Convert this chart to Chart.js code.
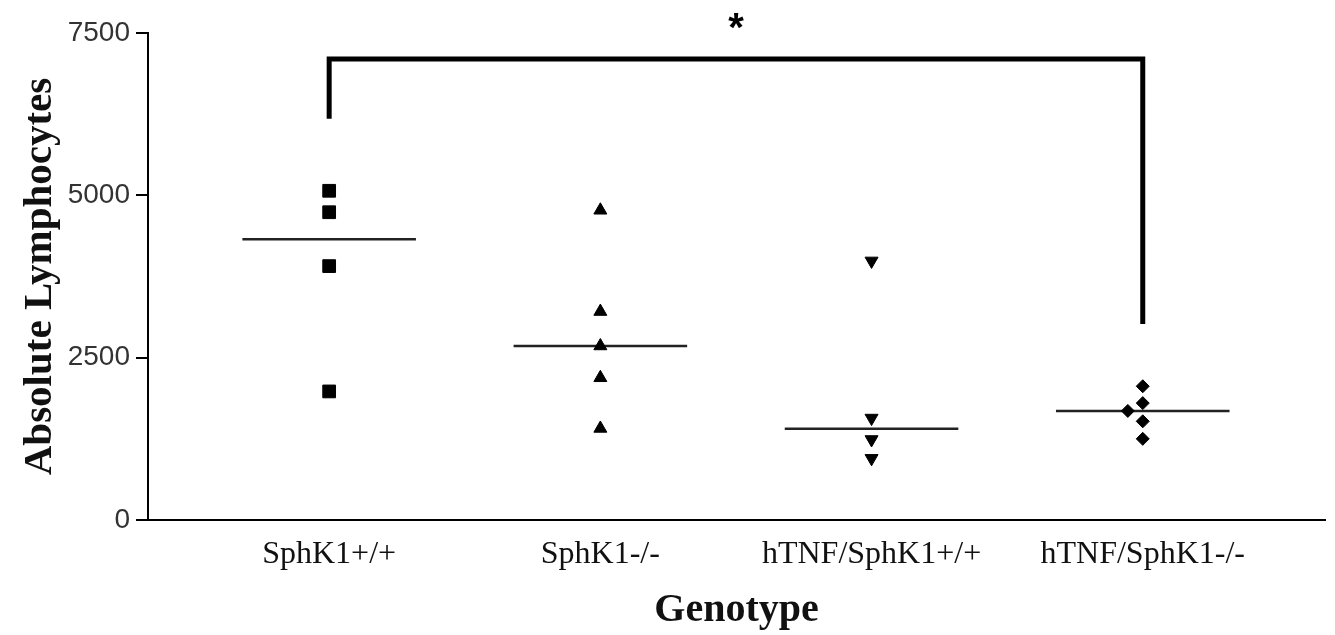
<!DOCTYPE html>
<html>
<head>
<meta charset="utf-8">
<script src="https://cdn.jsdelivr.net/npm/chart.js@4/dist/chart.umd.min.js"></script>
<style>
  html,body{margin:0;padding:0;background:#fff}
  #wrap{width:1335px;height:635px}
</style>
</head>
<body>
<div id="wrap"><canvas id="data_chart" width="1335" height="635"></canvas></div>
<script>
// genotype groups
const genotypes=["SphK1+/+","SphK1-/-","hTNF/SphK1+/+","hTNF/SphK1-/-"]
// absolute lymphocytes
const sphk1_wt=[5070,4740,3910,1980]
const sphk1_ko=[4770,3210,2680,2190,1410]
const htnf_wt=[3990,1570,1240,950]
const htnf_ko=[2060,1800,1680,1520,1250]
// small sideways shift of the overlapping hTNF/SphK1-/- point
const htnf_ko_shift=[0,0,-0.055,0,0]
const y_ticks=[0,2500,5000,7500]
// significance bracket: SphK1+/+ vs hTNF/SphK1-/-
const bracket_x=[0,0,3,3]
const bracket_y=[6180,7100,7100,3020]
const star_y=7640

function median(arr){
  const s=[...arr].sort((a,b)=>a-b)
  const m=Math.floor(s.length/2)
  return s.length%2 ? s[m] : (s[m-1]+s[m])/2
}

const groups=[sphk1_wt,sphk1_ko,htnf_wt,htnf_ko]
const styles=[
  {pointStyle:'rect',radius:9,rotation:0},
  {pointStyle:'triangle',radius:7.5,rotation:0},
  {pointStyle:'triangle',radius:7.5,rotation:180},
  {pointStyle:'rectRot',radius:6.5,rotation:0}
]

const datasets=[]
for(let i=0;i<groups.length;i++){
  const pts=[]
  for(let j=0;j<groups[i].length;j++){
    const dx = i==3 ? htnf_ko_shift[j] : 0
    pts.push({x:i+dx,y:groups[i][j]})
  }
  datasets.push({
    type:'scatter',
    data:pts,
    pointStyle:styles[i].pointStyle,
    pointRadius:styles[i].radius,
    pointRotation:styles[i].rotation,
    backgroundColor:'#000',
    borderColor:'#000',
    borderWidth:1,
    order:1
  })
  const med=median(groups[i])
  datasets.push({
    type:'line',
    data:[{x:i-0.32,y:med},{x:i+0.32,y:med}],
    borderColor:'#222',
    borderWidth:2.5,
    pointRadius:0,
    order:2
  })
}
datasets.push({
  type:'line',
  data:bracket_x.map((x,k)=>({x:x,y:bracket_y[k]})),
  borderColor:'#000',
  borderWidth:5,
  pointRadius:0,
  borderJoinStyle:'miter',
  clip:false,
  order:3
})

const starPlugin={
  id:'star',
  afterDraw(chart){
    const ctx=chart.ctx
    const x=chart.scales.x.getPixelForValue(1.5)
    const y=chart.scales.y.getPixelForValue(star_y)
    ctx.save()
    ctx.fillStyle='#000'
    ctx.font='bold 40px "Liberation Sans"'
    ctx.textAlign='center'
    ctx.textBaseline='middle'
    ctx.fillText('*',x,y+6)
    ctx.restore()
  }
}

new Chart('data_chart',{
  type:'scatter',
  data:{datasets:datasets},
  plugins:[starPlugin],
  options:{
    responsive:false,
    animation:false,
    layout:{padding:{top:33,right:5,left:0,bottom:0}},
    plugins:{legend:{display:false},tooltip:{enabled:false}},
    scales:{
      x:{
        type:'linear',
        min:-0.668,
        max:3.672,
        afterBuildTicks:(scale)=>{scale.ticks=genotypes.map((g,i)=>({value:i}))},
        afterFit:(scale)=>{scale.height=115},
        grid:{display:false,drawTicks:false},
        border:{display:true,color:'#000',width:2},
        ticks:{
          callback:(v)=>genotypes[v],
          color:'#111',
          font:{family:'"Liberation Serif"',size:32},
          padding:15,
          maxRotation:0,
          autoSkip:false
        },
        title:{
          display:true,
          text:'Genotype',
          color:'#111',
          font:{family:'"Liberation Serif"',size:40,weight:'bold'},
          padding:{top:0,bottom:0}
        }
      },
      y:{
        min:0,
        max:7500,
        afterBuildTicks:(scale)=>{scale.ticks=y_ticks.map(v=>({value:v}))},
        afterFit:(scale)=>{scale.width=148},
        grid:{display:true,drawOnChartArea:false,drawTicks:true,tickLength:12,color:'#000',lineWidth:2},
        border:{display:true,color:'#000',width:2},
        ticks:{
          callback:(v)=>String(v),
          color:'#333',
          font:{family:'"Liberation Sans"',size:28},
          padding:6
        },
        title:{
          display:true,
          text:'Absolute Lymphocytes',
          color:'#111',
          font:{family:'"Liberation Serif"',size:41,weight:'bold'},
          padding:{top:16,bottom:0}
        }
      }
    }
  }
})
</script>
</body>
</html>
